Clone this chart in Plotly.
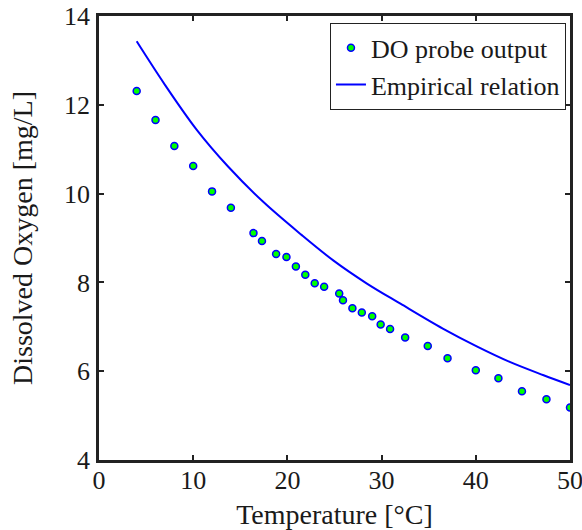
import plotly.graph_objects as go

# DO probe output (measured)
probe_temp = [4, 6, 8, 10, 12, 14, 16.4, 17.3, 18.8, 19.9, 20.9, 21.9, 22.9, 23.9,
              25.5, 25.9, 26.9, 27.9, 29.0, 29.9, 30.9, 32.5, 34.9, 37.0, 40.0,
              42.4, 44.9, 47.5, 50.0]
probe_do = [12.31, 11.66, 11.07, 10.62, 10.05, 9.68, 9.11, 8.93, 8.64, 8.57, 8.36, 8.17,
            7.98, 7.90, 7.75, 7.60, 7.42, 7.32, 7.24, 7.05, 6.95, 6.76, 6.57, 6.29, 6.02,
            5.84, 5.55, 5.37, 5.18]

# Empirical relation
emp_temp = [4.0, 7.0, 10.4, 13.7, 17.4, 21.5, 24.9, 28.4, 32.0, 36.5, 40.1, 43.6, 47.2, 50.0]
emp_do = [13.43, 12.45, 11.43, 10.61, 9.82, 9.07, 8.49, 7.98, 7.52, 6.96, 6.56, 6.21, 5.91, 5.69]

x_ticks = [0, 10, 20, 30, 40, 50]
y_ticks = [4, 6, 8, 10, 12, 14]

FONT = "Liberation Serif"
TXT = "#1a1a1a"

fig = go.Figure()
fig.add_trace(go.Scatter(
    x=probe_temp, y=probe_do, mode="markers", name="DO probe output",
    marker=dict(size=7, color="#00ff00", line=dict(color="#0000ff", width=1.5)),
))
fig.add_trace(go.Scatter(
    x=emp_temp, y=emp_do, mode="lines", name="Empirical relation",
    line=dict(color="#0000ff", width=2, shape="spline", smoothing=1.0),
))

axis_common = dict(
    showline=True, linecolor="#222", linewidth=2.5, mirror="ticks",
    ticks="inside", ticklen=5, tickwidth=1.5, tickcolor="#222",
    showgrid=False, zeroline=False, ticklabeloverflow="allow",
    tickfont=dict(family=FONT, size=26, color=TXT),
)

fig.update_layout(
    width=582, height=530,
    margin=dict(l=99, r=12, t=16, b=70, autoexpand=False),
    paper_bgcolor="white", plot_bgcolor="white",
    font=dict(family=FONT, size=26, color=TXT),
    showlegend=True,
    legend=dict(
        x=0.991, y=0.984, xanchor="right", yanchor="top",
        bordercolor="#222", borderwidth=1.2, bgcolor="white",
        font=dict(family=FONT, size=26, color=TXT),
        tracegroupgap=0, itemwidth=30,
    ),
    xaxis=dict(range=[0, 50], tickvals=x_ticks, ticklabelstandoff=-5,
               title=dict(text="Temperature [°C]", font=dict(family=FONT, size=28, color=TXT), standoff=13),
               **axis_common),
    yaxis=dict(range=[4, 14], tickvals=y_ticks, ticklabelstandoff=1,
               title=dict(text="Dissolved Oxygen [mg/L]", font=dict(family=FONT, size=28, color=TXT), standoff=24),
               **axis_common),
)

fig.write_html(
    "out.html",
    config={"displayModeBar": False},
    post_script="document.body.style.margin='0';document.body.style.overflow='hidden';",
)
